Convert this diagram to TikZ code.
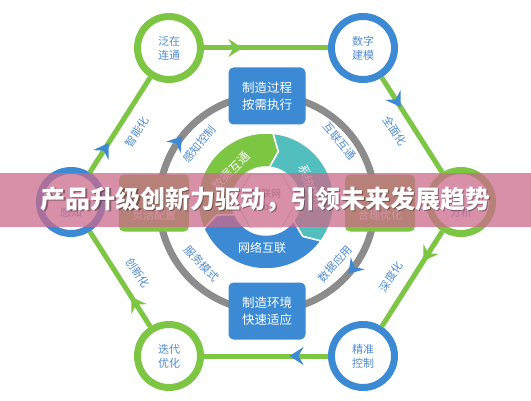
\documentclass[tikz,border=0pt]{standalone}
\usepackage{fontspec}
\setmainfont{Noto Sans CJK SC}
\usetikzlibrary{arrows.meta,decorations.markings,shapes.geometric}
\definecolor{gr}{RGB}{125,198,68}
\definecolor{bl}{RGB}{59,138,211}
\definecolor{tl}{RGB}{82,190,190}
\definecolor{rg}{RGB}{140,140,140}
\definecolor{lb}{RGB}{80,140,210}
\definecolor{bandc}{RGB}{203,107,139}
\begin{document}
\begin{tikzpicture}[x=1pt,y=1pt,
  hexc/.style={circle, line width=7pt, fill=white, minimum size=63pt, inner sep=0pt, align=center, text=lb, font=\fontsize{11}{14}\selectfont},
  bbox/.style={rounded corners=5pt, fill=bl, minimum width=77pt, minimum height=57pt, align=center, text=white, font=\fontsize{12.5}{17}\selectfont},
  gbox/.style={rounded corners=5pt, fill=gr, minimum width=70pt, minimum height=57pt},
  elab/.style={text=lb, font=\fontsize{11}{13}\selectfont},
  link/.style={draw=gr, line width=5pt},
  gtip/.style={postaction={decorate}, decoration={markings, mark=at position 0.31 with {\arrow{Stealth[length=14pt,width=18pt,inset=5pt,color=gr]}}}},
  btip/.style={postaction={decorate}, decoration={markings, mark=at position 0.31 with {\arrow{Stealth[length=14pt,width=18pt,inset=5pt,color=bl]}}}},
  segtext/.style={text=white, font=\fontsize{12}{14}\selectfont},
]
\useasboundingbox (0,0) rectangle (531,400);
\fill[white] (0,0) rectangle (531,400);

% inner gray ring
\coordinate (G) at (267,197);
\draw[rg, line width=7pt, postaction={decorate}, decoration={markings,
   mark=at position 0.394 with {\arrowreversed{Stealth[length=14pt,width=18pt,inset=5pt,color=bl]}},
   mark=at position 0.886 with {\arrowreversed{Stealth[length=14pt,width=18pt,inset=5pt,color=bl]}}}]
   (G) circle[radius=108];

% hub segments
\begin{scope}[shift={(266,199)}]
\fill[gr, draw=white, line width=1.5pt] (204:68) arc[start angle=204, end angle=84, radius=68] -- (76:51) -- (84:34) arc[start angle=84, end angle=204, radius=34] -- (196:51) -- cycle;
\fill[tl, draw=white, line width=1.5pt] (84:68) arc[start angle=84, end angle=-36, radius=68] -- (-44:51) -- (-36:34) arc[start angle=-36, end angle=84, radius=34] -- (76:51) -- cycle;
\fill[bl, draw=white, line width=1.5pt] (-36:68) arc[start angle=-36, end angle=-156, radius=68] -- (-164:51) -- (-156:34) arc[start angle=-156, end angle=-36, radius=34] -- (-44:51) -- cycle;
\end{scope}
\node[regular polygon, regular polygon sides=6, draw=black!25, line width=0.8pt, fill=white, minimum size=62pt, inner sep=0pt, align=center, text=black!55, font=\fontsize{10}{13}\selectfont] (hub) at (266,199) {物联网\\(IIoT)};
\node[segtext, rotate=45] (sA) at (231,229) {数据互通};
\node[segtext, rotate=-70] (sB) at (311,213) {系统集成};
\node[segtext] (sC) at (262,152) {网络互联};

% boxes on ring
\node[bbox] (top) at (267,304) {制造过程\\按需执行};
\node[bbox] (bot) at (267,89) {制造环境\\快速适应};
\node[gbox] (lb) at (154,197) {};
\node[gbox] (rb) at (380,197) {};
\node[text=white, font=\fontsize{11}{13}\selectfont] (lbt) at (154,185) {灵活配置};
\node[text=white, font=\fontsize{11}{13}\selectfont] (rbt) at (380,185) {合理优化};

% ring labels
\node[elab, rotate=50] (r1) at (199,256) {感知控制};
\node[elab, rotate=-50] (r2) at (340,259) {互联互通};
\node[elab, rotate=-47] (r3) at (202,136) {服务模式};
\node[elab, rotate=48] (r4) at (335,136) {数据应用};

% hexagon of circles
\node[hexc, draw=gr] (A) at (169,352) {泛在\\连通};
\node[hexc, draw=bl] (B) at (363,352) {数字\\建模};
\node[hexc, draw=gr] (C) at (461,198) {};
\node[hexc, draw=bl] (D) at (363,44) {精准\\控制};
\node[hexc, draw=gr] (E) at (169,44) {迭代\\优化};
\node[hexc, draw=bl] (F) at (71,198) {};
\node[text=lb, font=\fontsize{11}{13}\selectfont] (Ct) at (461,188) {分析};
\node[text=lb, font=\fontsize{11}{13}\selectfont] (Ft) at (71,188) {感知};

\draw[link, gtip] (A) -- (B);
\draw[link, btip] (B) -- (C);
\draw[link, gtip] (C) -- (D);
\draw[link, btip] (D) -- (E);
\draw[link, gtip] (E) -- (F);
\draw[link, btip] (F) -- (A);

\node[elab, rotate=57] (l1) at (137,268) {智能化};
\node[elab, rotate=-57] (l2) at (395,269) {全面化};
\node[elab, rotate=57] (l3) at (391,123) {深度化};
\node[elab, rotate=-57] (l4) at (138,127) {创新化};

% title band
\fill[bandc, opacity=0.75] (0,173) rectangle (531,227);
\node[text=black, opacity=0.35, font=\fontsize{25}{30}\selectfont\bfseries] (tsh) at (267,199) {产品升级创新力驱动，引领未来发展趋势};
\node[text=white, font=\fontsize{25}{30}\selectfont\bfseries] (title) at (266,200) {产品升级创新力驱动，引领未来发展趋势};
\end{tikzpicture}
\end{document}
